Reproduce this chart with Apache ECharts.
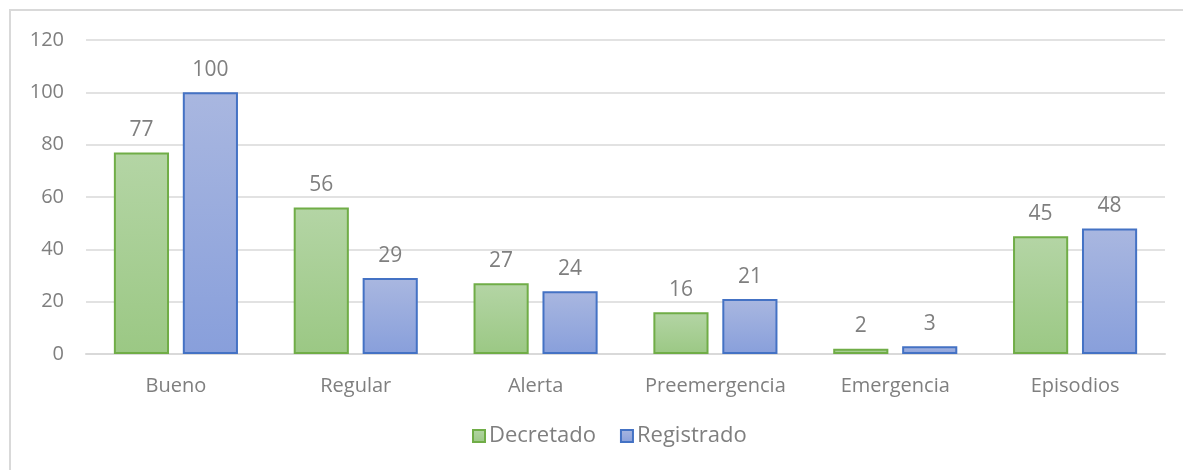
<!DOCTYPE html>
<html>
<head>
<meta charset="utf-8">
<script src="https://cdn.jsdelivr.net/npm/echarts@6/dist/echarts.min.js"></script>
<style>
  html, body { margin: 0; padding: 0; background: #fff; }
  #main { width: 1183px; height: 470px; }
</style>
</head>
<body>
<div id="main"></div>
<script>
var categories = ['Bueno', 'Regular', 'Alerta', 'Preemergencia', 'Emergencia', 'Episodios'];
var decretado = [77, 56, 27, 16, 2, 45];
var registrado = [100, 29, 24, 21, 3, 48];
var yTicks = { min: 0, max: 120, interval: 20 };

var font = '"Open Sans", "Liberation Sans", sans-serif';
var grey = '#7f7f7f';

function grad(top, bottom) {
    return new echarts.graphic.LinearGradient(0, 0, 0, 1, [
        { offset: 0, color: top },
        { offset: 1, color: bottom }
    ]);
}

var myChart = echarts.init(document.getElementById('main'));
var option = {
    animation: false,
    backgroundColor: '#fff',
    textStyle: { fontFamily: font },
    graphic: [{
        type: 'rect',
        shape: { x: 10, y: 10, width: 1200, height: 500 },
        style: { fill: 'none', stroke: '#d9d9d9', lineWidth: 2 },
        silent: true
    }],
    grid: { left: 86, right: 18, top: 40, bottom: 116, containLabel: false },
    legend: {
        bottom: 18,
        left: 467,
        icon: 'rect',
        itemWidth: 12,
        itemHeight: 12,
        itemGap: 24,
        textStyle: { color: grey, fontSize: 22, fontFamily: font, padding: [0, 0, 0, -1] },
        data: ['Decretado', 'Registrado']
    },
    xAxis: {
        type: 'category',
        data: categories,
        axisTick: { show: false },
        axisLine: { lineStyle: { color: '#d9d9d9', width: 2 } },
        axisLabel: { color: grey, fontSize: 20, margin: 22, interval: 0, fontFamily: font }
    },
    yAxis: {
        type: 'value',
        min: yTicks.min,
        max: yTicks.max,
        interval: yTicks.interval,
        axisLine: { show: false },
        axisTick: { show: false },
        axisLabel: { color: grey, fontSize: 20, margin: 22, fontFamily: font },
        splitLine: { lineStyle: { color: '#d9d9d9', width: 1.5 } }
    },
    series: [
        {
            name: 'Decretado',
            type: 'bar',
            data: decretado,
            barGap: '25%',
            barCategoryGap: '31%',
            itemStyle: {
                color: grad('#b4d5a5', '#9bc884'),
                borderColor: '#70ad47',
                borderWidth: 2
            },
            label: { show: true, position: 'top', distance: 12, color: grey, fontSize: 21, fontFamily: font }
        },
        {
            name: 'Registrado',
            type: 'bar',
            data: registrado,
            barGap: '25%',
            barCategoryGap: '31%',
            itemStyle: {
                color: grad('#a9b7e0', '#889fdb'),
                borderColor: '#4472c4',
                borderWidth: 2
            },
            label: { show: true, position: 'top', distance: 12, color: grey, fontSize: 21, fontFamily: font }
        }
    ]
};
myChart.setOption(option);
</script>
</body>
</html>
